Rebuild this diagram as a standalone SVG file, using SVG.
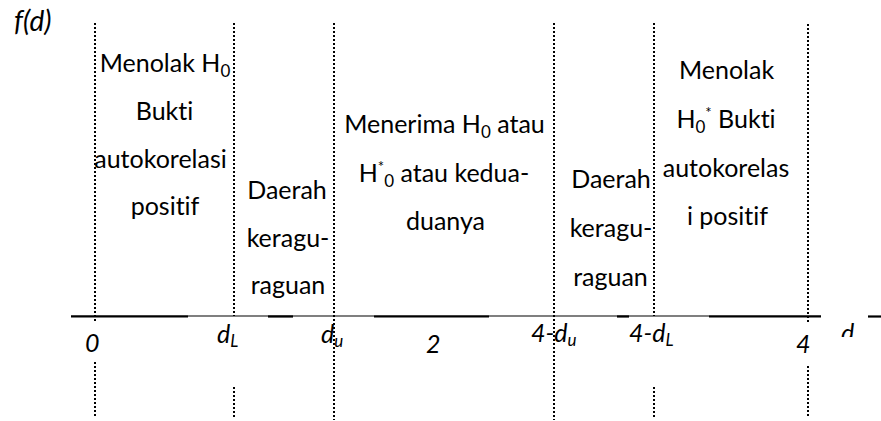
<svg xmlns="http://www.w3.org/2000/svg" width="881" height="421" viewBox="0 0 881 421">
<style>
text{font-variant-ligatures:none;font-feature-settings:"liga" 0,"clig" 0}
.t{font-family:Lato,"Liberation Sans",sans-serif;font-size:25px;fill:#000;text-anchor:middle}
.i{font-family:Lato,"Liberation Sans",sans-serif;font-style:italic;font-size:25px;fill:#000}
.sub{font-size:17px}
.sup{font-size:15px}
.dot{stroke:#000;stroke-width:2;stroke-dasharray:2 2;fill:none}
.ax{stroke:#000;stroke-width:1.2}
.axb{stroke:#000;stroke-width:2.2}
</style>
<defs>
<clipPath id="clipd"><rect x="830" y="300" width="40" height="37"/></clipPath>
</defs>
<rect width="881" height="421" fill="#fff"/>
<g id="connectors">
<line class="dot" x1="95" y1="23" x2="95" y2="323"/>
<line class="dot" x1="95" y1="362" x2="95" y2="418"/>
<line class="dot" x1="234" y1="23" x2="234" y2="316"/>
<line class="dot" x1="234" y1="387" x2="234" y2="418"/>
<line class="dot" x1="334" y1="23" x2="334" y2="420"/>
<line class="dot" x1="554" y1="23" x2="554" y2="420"/>
<line class="dot" x1="654" y1="23" x2="654" y2="316"/>
<line class="dot" x1="654" y1="387" x2="654" y2="418"/>
<line class="dot" x1="808" y1="24" x2="808" y2="323"/>
<line class="dot" x1="808" y1="366" x2="808" y2="418"/>
</g>
<g id="axis">
<line class="ax" x1="71" y1="316" x2="821" y2="316"/>
<line class="axb" x1="71" y1="316.5" x2="188" y2="316.5"/>
<line class="axb" x1="268" y1="316.5" x2="293" y2="316.5"/>
<line class="axb" x1="374" y1="316.5" x2="489" y2="316.5"/>
<line class="axb" x1="617" y1="316.5" x2="629" y2="316.5"/>
<line class="axb" x1="709" y1="316.5" x2="821" y2="316.5"/>
<line class="axb" x1="868" y1="316.5" x2="881" y2="316.5"/>
</g>
<g id="labels">
<text class="i" x="14" y="31" style="font-size:28px">f(d)</text>
<text class="i" x="85" y="352">0</text>
<text class="i" x="217" y="343">d<tspan class="sub" dy="4">L</tspan></text>
<text class="i" x="321" y="343">d<tspan class="sub" dy="4">u</tspan></text>
<text class="i" x="426" y="353">2</text>
<text class="i" x="531" y="342">4-d<tspan class="sub" dy="4">u</tspan></text>
<text class="i" x="629" y="342">4-d<tspan class="sub" dy="4">L</tspan></text>
<text class="i" x="796" y="353">4</text>
<text class="i" x="841" y="342" clip-path="url(#clipd)">d</text>
</g>
<g id="col1">
<text class="t" x="165" y="72">Menolak H<tspan class="sub" dy="5">0</tspan></text>
<text class="t" x="164.5" y="120">Bukti</text>
<text class="t" x="160.5" y="168">autokorelasi</text>
<text class="t" x="165" y="215">positif</text>
</g>
<g id="col2">
<text class="t" x="287" y="199">Daerah</text>
<text class="t" x="288" y="247">keragu-</text>
<text class="t" x="288" y="294">raguan</text>
</g>
<g id="col3">
<text class="t" x="444.5" y="133">Menerima H<tspan class="sub" dy="5">0</tspan><tspan dy="-5"> atau</tspan></text>
<text class="t" x="444" y="182">H<tspan class="sup" dy="-10">*</tspan><tspan class="sub" dy="15">0</tspan><tspan dy="-5">  atau kedua-</tspan></text>
<text class="t" x="445.5" y="230">duanya</text>
</g>
<g id="col4">
<text class="t" x="611" y="188">Daerah</text>
<text class="t" x="611" y="237">keragu-</text>
<text class="t" x="610.5" y="286">raguan</text>
</g>
<g id="col5">
<text class="t" x="726.5" y="79">Menolak</text>
<text class="t" x="726" y="128">H<tspan class="sub" dy="5">0</tspan><tspan class="sup" dy="-15">*</tspan><tspan dy="10"> Bukti</tspan></text>
<text class="t" x="726" y="177">autokorelas</text>
<text class="t" x="727.5" y="225">i positif</text>
</g>
</svg>
